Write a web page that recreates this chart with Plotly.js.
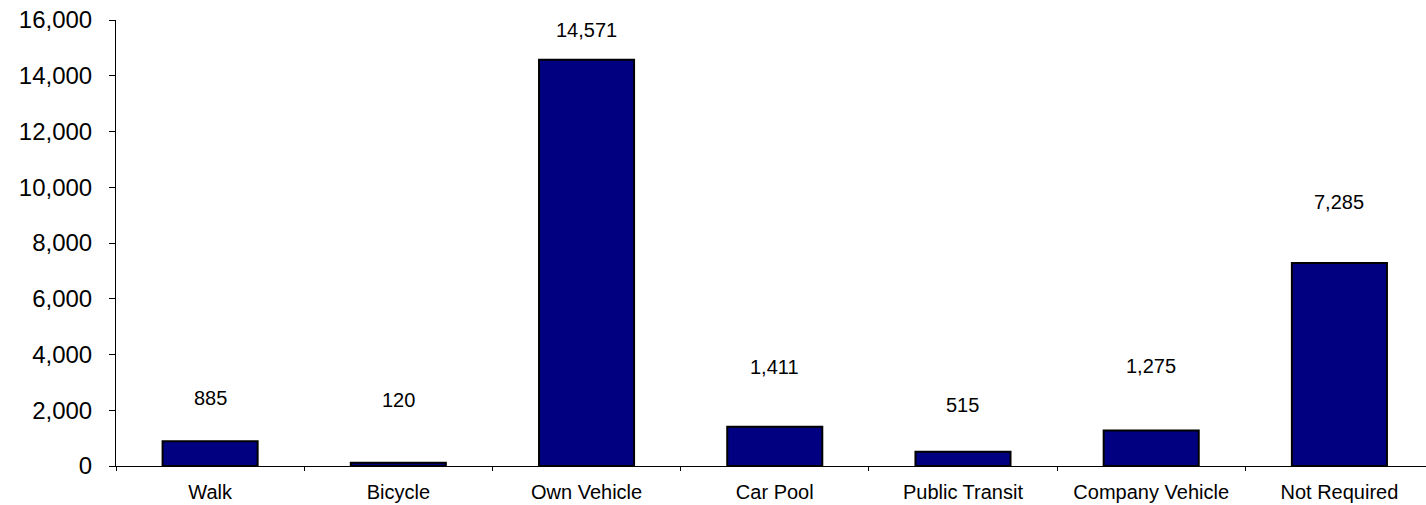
<!DOCTYPE html>
<html><head><meta charset="utf-8">
<script src="https://cdn.plot.ly/plotly-3.0.1.min.js"></script>
<style>html,body{margin:0;padding:0;background:#fff;overflow:hidden}</style>
</head><body>
<div id="chart" style="width:1426px;height:505px"></div>
<script>
const categories = ["Walk","Bicycle","Own Vehicle","Car Pool","Public Transit","Company Vehicle","Not Required"];
const values = [885, 120, 14571, 1411, 515, 1275, 7285];
const valueLabels = ["885","120","14,571","1,411","515","1,275","7,285"];
const yTickVals = [0,2000,4000,6000,8000,10000,12000,14000,16000];
const yTickText = ["0","2,000","4,000","6,000","8,000","10,000","12,000","14,000","16,000"];

const labelShift = [43, 63, 30, 60, 47, 64, 61];
const FONT = 'Liberation Sans, Arial, sans-serif';

const annotations = categories.map((c,i)=>({
  x: c, y: values[i], xref:'x', yref:'y', text: valueLabels[i], showarrow:false,
  yanchor:'middle', yshift: labelShift[i], font:{family:FONT, size:20, color:'#000'}
}));

Plotly.newPlot('chart', [{
  type:'bar', x: categories, y: values, width: 0.505,
  marker:{color:'#000080', line:{color:'#000', width:2}},
  hoverinfo:'none'
}], {
  width:1426, height:505,
  margin:{l:116, r:0, t:20, b:39},
  paper_bgcolor:'#fff', plot_bgcolor:'#fff',
  showlegend:false,
  bargap:0,
  xaxis:{
    type:'category', range:[-0.5, 6.46], showgrid:false, zeroline:false,
    showline:true, linecolor:'#000', linewidth:1,
    ticks:'outside', tickson:'boundaries', ticklen:4, tickcolor:'#000', tickwidth:1,
    ticklabelstandoff:8,
    tickfont:{family:FONT, size:20, color:'#000'}
  },
  yaxis:{
    range:[0,16000], tickvals:yTickVals, ticktext:yTickText, showgrid:false, zeroline:false,
    showline:true, linecolor:'#000', linewidth:1,
    ticks:'outside', ticklen:6, tickcolor:'#000', tickwidth:1, ticklabelstandoff:12,
    tickfont:{family:FONT, size:24, color:'#000'}
  },
  annotations: annotations
}, {staticPlot:true, displayModeBar:false});
</script>
</body></html>
